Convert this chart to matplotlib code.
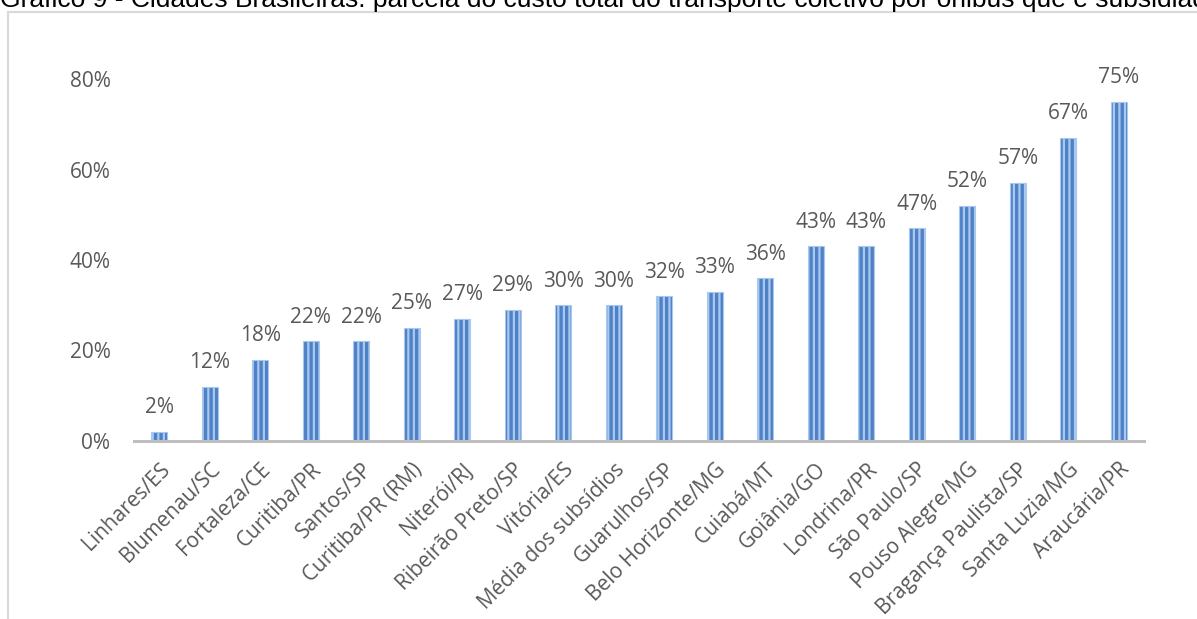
import matplotlib
matplotlib.use("Agg")
import matplotlib.pyplot as plt
from matplotlib.patches import Rectangle
from matplotlib.ticker import FuncFormatter, MultipleLocator

cities = [
    "Linhares/ES", "Blumenau/SC", "Fortaleza/CE", "Curitiba/PR", "Santos/SP",
    "Curitiba/PR (RM)", "Niterói/RJ", "Ribeirão Preto/SP", "Vitória/ES",
    "Média dos subsídios", "Guarulhos/SP", "Belo Horizonte/MG", "Cuiabá/MT",
    "Goiânia/GO", "Londrina/PR", "São Paulo/SP", "Pouso Alegre/MG",
    "Bragança Paulista/SP", "Santa Luzia/MG", "Araucária/PR",
]
subsidy_pct = [2, 12, 18, 22, 22, 25, 27, 29, 30, 30, 32, 33, 36, 43, 43, 47, 52, 57, 67, 75]

title = ("Gráfico 9 - Cidades Brasileiras: parcela do custo total do transporte "
         "coletivo por ônibus que é subsidiada")

W, H = 1197, 619
plt.rcParams["hatch.linewidth"] = 1.6
fig = plt.figure(figsize=(W / 100, H / 100), dpi=100)

# outer chart frame
fig.patches.append(Rectangle((8 / W, -0.1), 1.2, (H - 12) / H + 0.1,
                             transform=fig.transFigure, fill=False,
                             edgecolor="#d9d9d9", linewidth=1.5))

fig.text(0, 1 - 7 / H, title, fontsize=19, family="Liberation Sans",
         ha="left", va="baseline", color="black")

ax = fig.add_axes([134 / W, (H - 441) / H, (1144 - 134) / W, (441 - 79) / H])
x = list(range(len(cities)))
ax.bar(x, subsidy_pct, width=0.31, color="#4f81c7", edgecolor="#a9c8ee",
       hatch="|||", linewidth=0.8)

label_font = dict(family="Open Sans", fontsize=15, color="#595959")
for xi, v in zip(x, subsidy_pct):
    ax.text(xi, v + 3.0, f"{v}%", ha="center", va="bottom", **label_font)

ax.set_xlim(-0.5, len(cities) - 0.5)
ax.set_ylim(0, 80)
ax.yaxis.set_major_locator(MultipleLocator(20))
ax.yaxis.set_major_formatter(FuncFormatter(lambda v, p: f"{v:.0f}%"))
ax.set_xticks(x)
ax.set_xticklabels(cities, rotation=45, ha="right", rotation_mode="anchor",
                   **label_font)
for lab in ax.get_yticklabels():
    lab.set_family("Open Sans")
    lab.set_fontsize(15)
    lab.set_color("#595959")
ax.tick_params(axis="both", length=0)
ax.tick_params(axis="y", pad=17)
ax.tick_params(axis="x", pad=13)
for s in ("top", "right", "left"):
    ax.spines[s].set_visible(False)
ax.spines["bottom"].set_color("#bfbfbf")
ax.spines["bottom"].set_linewidth(2.2)
ax.patch.set_alpha(0)

fig.savefig("out.png", dpi=100)
